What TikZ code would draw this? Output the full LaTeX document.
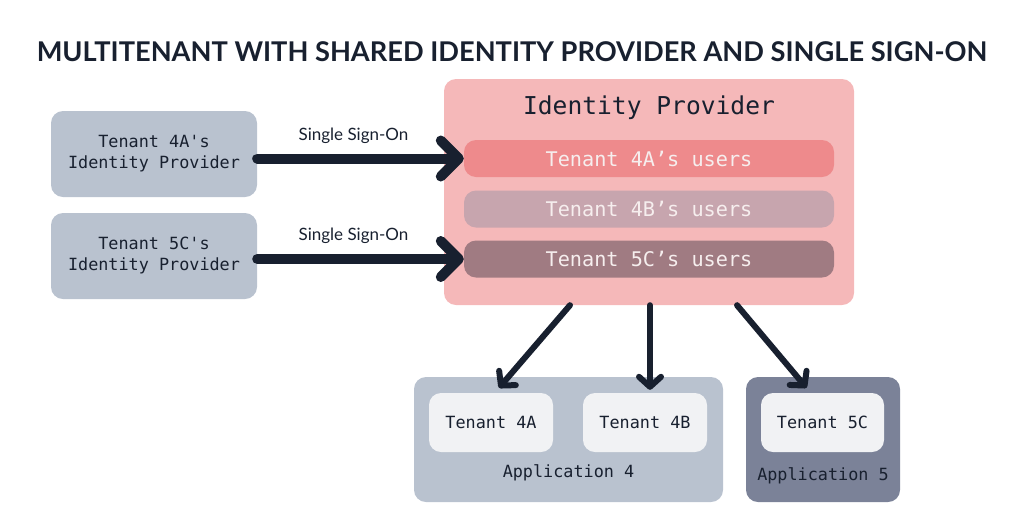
\documentclass[tikz,border=0pt]{standalone}
\usepackage{fontspec}
\setmainfont{Lato}
\setmonofont{DejaVu Sans Mono}
\usetikzlibrary{arrows.meta}

\definecolor{ink}{HTML}{18202F}
\definecolor{slatebox}{HTML}{B9C2CF}
\definecolor{idpbox}{HTML}{F5B8B9}
\definecolor{rowa}{HTML}{EE8A8C}
\definecolor{rowb}{HTML}{C7A5AE}
\definecolor{rowc}{HTML}{A07B82}
\definecolor{rowtext}{HTML}{F6EEEE}
\definecolor{tenantfill}{HTML}{F1F2F4}
\definecolor{appfive}{HTML}{7B8298}

\begin{document}
\begin{tikzpicture}[x=1pt, y=-1pt,
        box/.style={rectangle, rounded corners=12pt, inner sep=0pt, align=center},
        monotext/.style={font=\ttfamily\fontsize{16.8}{21}\selectfont, text=ink},
        userrow/.style={box, minimum width=370pt, minimum height=37pt,
            font=\ttfamily\fontsize{20.2}{24}\selectfont, text=rowtext},
        ssolabel/.style={font=\fontsize{17}{20}\selectfont, text=ink},
        sso/.style={line width=10pt, line cap=round, draw=ink,
            -{Straight Barb[length=18pt, width=36pt, round]}},
        feed/.style={line width=6pt, line cap=round, draw=ink,
            -{Straight Barb[length=10pt, width=22pt, round]}}]
    \useasboundingbox (0, 0) rectangle (1024, 512);

    \node[font=\bfseries\fontsize{27.2}{33}\selectfont, text=ink] (title) at (512, 52)
        {MULTITENANT WITH SHARED IDENTITY PROVIDER AND SINGLE SIGN-ON};

    % tenants' own identity providers
    \node[box, fill=slatebox, monotext, minimum width=206pt, minimum height=86pt] (idp4a) at (154, 154)
        {Tenant 4A's\\Identity Provider};
    \node[box, fill=slatebox, monotext, minimum width=206pt, minimum height=86pt] (idp5c) at (154, 256)
        {Tenant 5C's\\Identity Provider};

    % shared identity provider
    \node[box, fill=idpbox, minimum width=410pt, minimum height=226pt] (idp) at (649, 192) {};
    \node[font=\ttfamily\fontsize{24.6}{30}\selectfont, text=ink] (idptitle) at (649, 108) {Identity Provider};
    \node[userrow, fill=rowa] (users4a) at (649, 158.5) {Tenant 4A’s users};
    \node[userrow, fill=rowb] (users4b) at (649, 209) {Tenant 4B’s users};
    \node[userrow, fill=rowc] (users5c) at (649, 259) {Tenant 5C’s users};

    \draw[sso] (idp4a.east |- users4a) -- (users4a.west)
        node[midway, above=7pt, xshift=-7pt, ssolabel] {Single Sign-On};
    \draw[sso] (idp5c.east |- users5c) -- (users5c.west)
        node[midway, above=7pt, xshift=-7pt, ssolabel] {Single Sign-On};

    % applications
    \node[box, fill=slatebox, minimum width=309pt, minimum height=125pt] (app4) at (568.5, 439.5) {};
    \node[box, fill=appfive, minimum width=154pt, minimum height=125pt] (app5) at (823, 439.5) {};
    \node[box, fill=tenantfill, monotext, minimum width=124pt, minimum height=59pt] (t4a) at (491, 422.5) {Tenant 4A};
    \node[box, fill=tenantfill, monotext, minimum width=124pt, minimum height=59pt] (t4b) at (645, 422.5) {Tenant 4B};
    \node[box, fill=tenantfill, monotext, minimum width=123pt, minimum height=59pt] (t5c) at (822.5, 422.5) {Tenant 5C};
    \node[monotext] (app4label) at (568.5, 473) {Application 4};
    \node[monotext] (app5label) at (823, 476) {Application 5};

    \draw[feed] ([xshift=-79pt]idp.south) -- ([shift={(8,-5)}]t4a.north);
    \draw[feed] ([xshift=1pt]idp.south) -- ([shift={(5,-3)}]t4b.north);
    \draw[feed] ([xshift=88pt]idp.south) -- ([shift={(-16,-5)}]t5c.north);
\end{tikzpicture}
\end{document}
